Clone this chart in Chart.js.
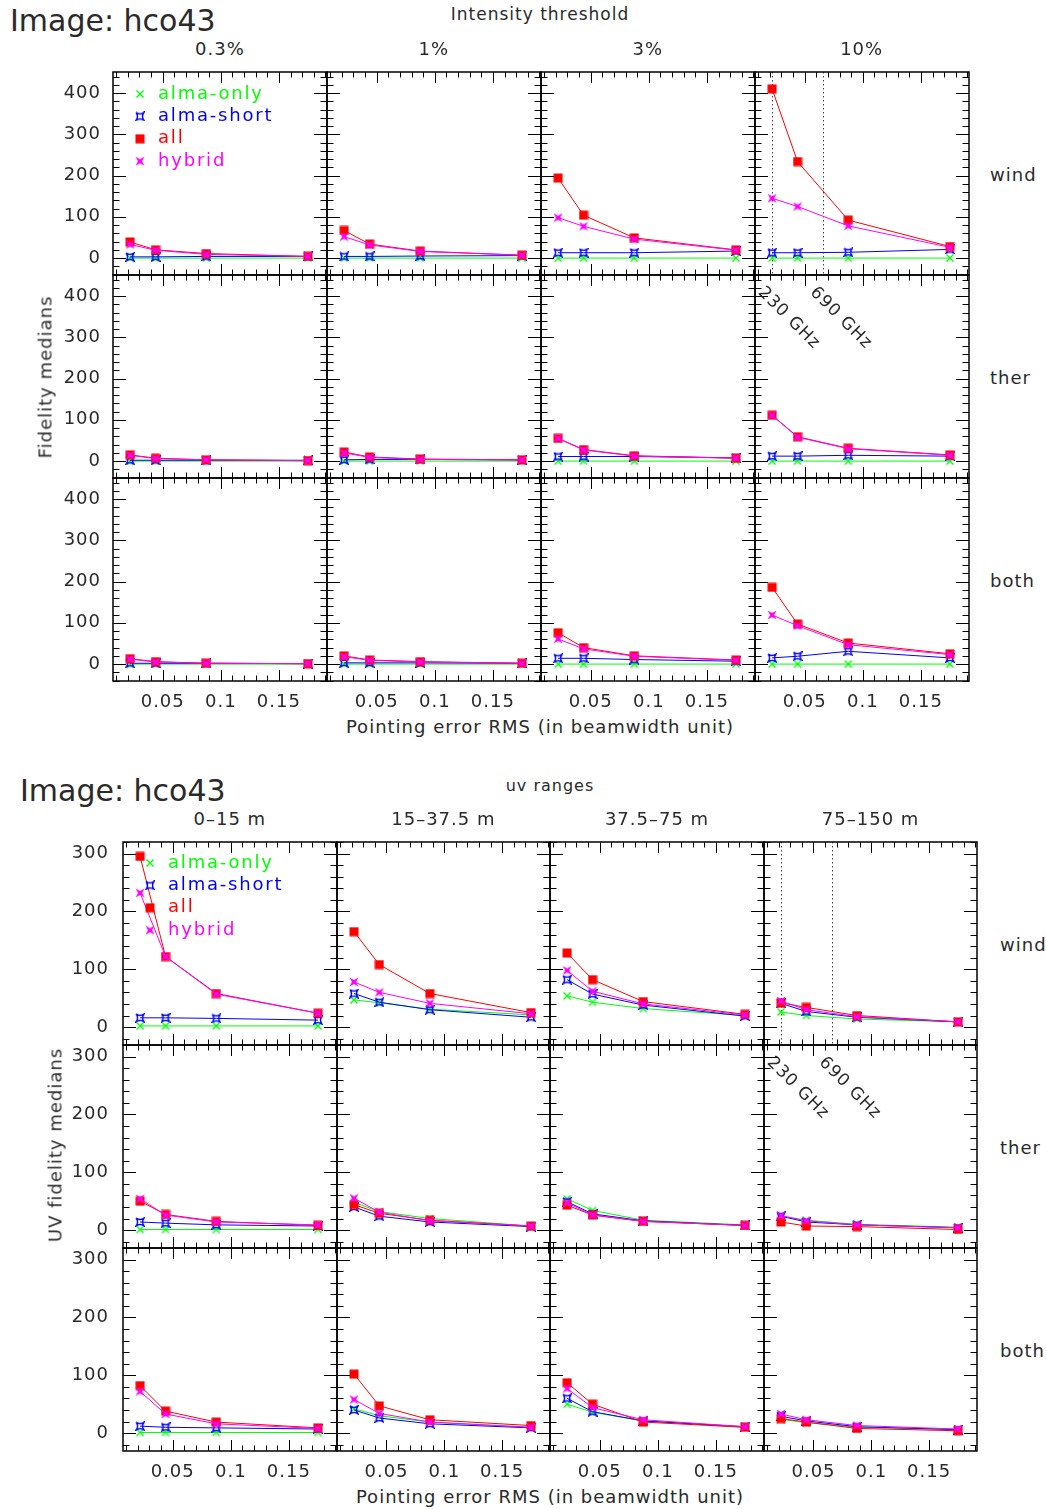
<!DOCTYPE html>
<html>
<head>
<meta charset="utf-8">
<title>hco43 fidelity medians</title>
<script src="https://cdn.jsdelivr.net/npm/chart.js"></script>
<style>
body { margin:0; background:#fff; }
#page { position:relative; width:1046px; height:1509px; overflow:hidden; font-family:"DejaVu Sans", sans-serif; color:#2a2a2a; }
.t { position:absolute; white-space:nowrap; font-size:18px; letter-spacing:1px; transform:translate(-50%,-50%); }
.l { position:absolute; white-space:nowrap; font-size:18px; letter-spacing:1px; transform:translate(0,-50%); }
.big { font-size:30px; letter-spacing:0; }
.rot { transform:translate(-50%,-50%) rotate(-90deg); }
.ghz { transform:translate(-50%,-50%) rotate(45deg); font-size:17px; }
canvas { position:absolute; }
</style>
</head>
<body>
<div id="page"></div>
<script>
// pointing error RMS (beamwidth units), same four steps in every panel
var pointing = [0.0219, 0.0438, 0.0875, 0.175];
var freqLines = [0.0219, 0.0656];   // 230 GHz / 690 GHz
var seriesNames = ['alma-only', 'alma-short', 'all', 'hybrid'];
var seriesColors = ['#00ff00', '#0000ff', '#ff0000', '#ff00ff'];
var rowNames = ['wind', 'ther', 'both'];
var thresholds = ['0.3%', '1%', '3%', '10%'];
var uvRanges = ['0\u201315 m', '15\u201337.5 m', '37.5\u201375 m', '75\u2013150 m'];
var xTicks = [0.05, 0.1, 0.15];
var fidTicks = [0, 100, 200, 300, 400];
var uvTicks = [0, 100, 200, 300];

// Fidelity medians, one inner array per intensity threshold column
var fidWindOnly  = [[0,0,0,0], [0,0,0,0], [0,0,0,0], [0,0,0,0]];
var fidWindShort = [[3,3,4,4], [4,4,5,6], [13,13,13,17], [13,13,14,21]];
var fidWindAll   = [[39,20,11,4], [67,34,17,7], [194,104,49,20], [410,234,92,28]];
var fidWindHyb   = [[33,19,9,4], [52,32,16,7], [98,77,46,19], [145,125,78,26]];
var fidTherOnly  = [[0,0,0,0], [0,0,0,0], [0,0,0,0], [0,0,0,0]];
var fidTherShort = [[2,2,2,2], [3,4,4,3], [11,11,11,8], [12,12,14,12]];
var fidTherAll   = [[15,7,3,1], [22,10,5,3], [55,28,13,7], [111,59,31,15]];
var fidTherHyb   = [[14,6,3,1], [20,9,4,3], [55,27,12,7], [111,58,30,14]];
var fidBothOnly  = [[0,0,0,0], [0,0,0,0], [0,0,0,0], [0,0,0,0]];
var fidBothShort = [[2,2,2,1], [3,3,3,2], [14,14,11,7], [15,19,31,15]];
var fidBothAll   = [[13,6,2,1], [20,10,6,2], [76,40,20,10], [186,97,51,25]];
var fidBothHyb   = [[12,5,2,1], [18,9,5,2], [61,37,19,9], [119,93,47,23]];

// UV fidelity medians, one inner array per uv range column
var uvWindOnly  = [[2,2,2,2], [47,42,31,21], [54,43,32,20], [26,20,14,9]];
var uvWindShort = [[16,16,15,12], [58,43,30,17], [82,57,38,19], [41,27,17,9]];
var uvWindAll   = [[295,122,58,24], [165,108,58,25], [128,82,44,22], [42,34,20,9]];
var uvWindHyb   = [[232,122,57,24], [78,60,41,23], [98,62,40,21], [45,30,18,9]];
var uvTherOnly  = [[1,1,1,1], [48,32,20,7], [54,34,17,9], [24,17,10,5]];
var uvTherShort = [[14,12,9,7], [40,24,14,6], [49,28,16,8], [24,14,9,4]];
var uvTherAll   = [[50,27,15,8], [44,29,17,7], [43,26,15,8], [14,7,6,1]];
var uvTherHyb   = [[54,26,14,9], [55,31,16,7], [47,26,15,8], [25,16,9,4]];
var uvBothOnly  = [[1,1,1,1], [42,30,19,10], [50,36,21,10], [24,18,10,6]];
var uvBothShort = [[12,10,9,7], [40,26,16,9], [60,37,21,11], [29,21,11,6]];
var uvBothAll   = [[82,38,19,9], [102,47,23,13], [87,50,19,10], [25,19,8,4]];
var uvBothHyb   = [[72,33,16,8], [58,34,19,10], [77,44,23,11], [33,23,13,7]];

var X_MIN = 0.0072, X_MAX = 0.1914;
var ML = 62, MR = 6, MT = 6, MB = 34;
var FONT = '18px "DejaVu Sans", sans-serif';
var page = document.getElementById('page');

function makeMarker(kind, color) {
  var c = document.createElement('canvas');
  c.width = 10; c.height = 10;
  var g = c.getContext('2d');
  g.strokeStyle = color; g.fillStyle = color; g.lineWidth = 1.4;
  g.beginPath();
  if (kind == 'cross') {
    g.moveTo(1.5,1.5); g.lineTo(8.5,8.5); g.moveTo(8.5,1.5); g.lineTo(1.5,8.5); g.stroke();
  } else if (kind == 'astroid') {
    g.moveTo(1,1); g.quadraticCurveTo(5,4,9,1); g.quadraticCurveTo(6,5,9,9);
    g.quadraticCurveTo(5,6,1,9); g.quadraticCurveTo(4,5,1,1); g.stroke();
  } else if (kind == 'square') {
    g.fillRect(0.5,0.5,9,9);
  } else {
    g.moveTo(0.5,0.5); g.lineTo(5,3); g.lineTo(9.5,0.5); g.lineTo(7,5);
    g.lineTo(9.5,9.5); g.lineTo(5,7); g.lineTo(0.5,9.5); g.lineTo(3,5); g.closePath(); g.fill();
  }
  return c;
}
var markers = [makeMarker('cross', seriesColors[0]), makeMarker('astroid', seriesColors[1]),
               makeMarker('square', seriesColors[2]), makeMarker('star', seriesColors[3])];

var framePlugin = {
  id: 'frame',
  beforeDatasetsDraw: function (chart, args, o) {
    if (!o.vlines) return;
    var ctx = chart.ctx, a = chart.chartArea;
    ctx.save();
    ctx.strokeStyle = '#444'; ctx.lineWidth = 1; ctx.setLineDash([1.5, 2.5]);
    o.vlines.forEach(function (v) {
      var px = Math.round(chart.scales.x.getPixelForValue(v)) + 0.5;
      ctx.beginPath(); ctx.moveTo(px, a.top); ctx.lineTo(px, a.bottom); ctx.stroke();
    });
    ctx.restore();
  },
  afterDraw: function (chart, args, o) {
    var ctx = chart.ctx, a = chart.chartArea, xs = chart.scales.x, ys = chart.scales.y;
    ctx.save();
    ctx.strokeStyle = '#000'; ctx.lineWidth = 1;
    ctx.beginPath();
    for (var i = 1; i <= 19; i++) {
      var v = i / 100;
      var major = xTicks.some(function (t) { return Math.abs(t - v) < 1e-6; });
      var len = major ? 11 : 5.5;
      var px = Math.round(xs.getPixelForValue(v)) + 0.5;
      ctx.moveTo(px, a.bottom); ctx.lineTo(px, a.bottom - len);
      ctx.moveTo(px, a.top); ctx.lineTo(px, a.top + len);
    }
    for (var y = Math.ceil(ys.min / 20) * 20; y <= ys.max; y += 20) {
      var ylen = (y % 100 == 0) ? 13 : 6.5;
      var py = Math.round(ys.getPixelForValue(y)) + 0.5;
      ctx.moveTo(a.left, py); ctx.lineTo(a.left + ylen, py);
      ctx.moveTo(a.right, py); ctx.lineTo(a.right - ylen, py);
    }
    ctx.stroke();
    ctx.lineWidth = 1.5;
    ctx.strokeRect(a.left, a.top, a.right - a.left, a.bottom - a.top);

    ctx.font = FONT; ctx.fillStyle = '#2a2a2a'; ctx.letterSpacing = '1px';
    if (o.yLabels) {
      ctx.textAlign = 'right'; ctx.textBaseline = 'middle';
      o.yLabels.forEach(function (t) { ctx.fillText(String(t), a.left - o.yGap, ys.getPixelForValue(t)); });
    }
    if (o.xLabels) {
      ctx.textAlign = 'center'; ctx.textBaseline = 'middle';
      o.xLabels.forEach(function (t) { ctx.fillText(String(t), xs.getPixelForValue(t), a.bottom + 21); });
    }
    if (o.legend) {
      ctx.textAlign = 'left'; ctx.letterSpacing = '1.8px';
      seriesNames.forEach(function (name, k) {
        var mx = a.left + 27, my = a.top + o.legend + k * 22.4;
        ctx.drawImage(markers[k], mx - 5, my - 5);
        ctx.fillStyle = seriesColors[k];
        ctx.fillText(name, mx + 18, my);
      });
    }
    ctx.restore();
  }
};

function addText(cls, txt, x, y, size) {
  var d = document.createElement('div');
  d.className = cls; d.textContent = txt;
  d.style.left = x + 'px'; d.style.top = y + 'px';
  if (size) d.style.fontSize = size + 'px';
  page.appendChild(d);
}

function drawFigure(f) {
  for (var r = 0; r < 3; r++) {
    for (var c = 0; c < 4; c++) {
      var left = Math.round(f.left + c * f.w), right = Math.round(f.left + (c + 1) * f.w);
      var top = f.top + r * f.h;
      var cv = document.createElement('canvas');
      cv.width = right - left + ML + MR; cv.height = f.h + MT + MB;
      cv.style.left = (left - ML) + 'px'; cv.style.top = (top - MT) + 'px';
      page.appendChild(cv);
      var rowData = f.rows[r];
      var datasets = rowData.map(function (arr, k) {
        return {
          label: seriesNames[k],
          data: pointing.map(function (x, i) { return { x: x, y: arr[c][i] }; }),
          borderColor: seriesColors[k], backgroundColor: seriesColors[k],
          borderWidth: 1, pointStyle: markers[k], pointRadius: 5, order: 3 - k, fill: false
        };
      });
      new Chart(cv, {
        type: 'line',
        data: { datasets: datasets },
        options: {
          responsive: false, animation: false, events: [],
          layout: { padding: { left: ML, right: MR, top: MT, bottom: MB } },
          plugins: {
            legend: { display: false }, tooltip: { enabled: false },
            frame: {
              yLabels: c == 0 ? f.yTicks : null, yGap: f.yGap,
              xLabels: r == 2 ? xTicks : null,
              legend: (r == 0 && c == 0) ? f.legendY : 0,
              vlines: (r == 0 && c == 3) ? freqLines : null
            }
          },
          scales: {
            x: { type: 'linear', min: X_MIN, max: X_MAX, display: false },
            y: { type: 'linear', min: f.yMin, max: f.yMax, display: false }
          }
        },
        plugins: [framePlugin]
      });
    }
  }
}

var figTop = {
  left: 113, top: 72, w: 213.9, h: 203, yMin: -41, yMax: 451, yTicks: fidTicks, yGap: 12, legendY: 22,
  rows: [[fidWindOnly, fidWindShort, fidWindAll, fidWindHyb],
         [fidTherOnly, fidTherShort, fidTherAll, fidTherHyb],
         [fidBothOnly, fidBothShort, fidBothAll, fidBothHyb]]
};
var figBot = {
  left: 123, top: 842, w: 213.6, h: 203, yMin: -31, yMax: 320, yTicks: uvTicks, yGap: 14, legendY: 21,
  rows: [[uvWindOnly, uvWindShort, uvWindAll, uvWindHyb],
         [uvTherOnly, uvTherShort, uvTherAll, uvTherHyb],
         [uvBothOnly, uvBothShort, uvBothAll, uvBothHyb]]
};
drawFigure(figTop);
drawFigure(figBot);

// titles and labels of the upper figure
addText('l big', 'Image: hco43', 10, 20);
addText('t', 'Intensity threshold', 540, 14, 17);
thresholds.forEach(function (s, i) { addText('t', s, 113 + (i + 0.5) * 213.9, 48); });
rowNames.forEach(function (s, i) { addText('l', s, 990, 174 + i * 203); });
addText('t rot', 'Fidelity medians', 45, 377);
addText('t', 'Pointing error RMS (in beamwidth unit)', 540, 726);
addText('t ghz', '230 GHz', 790, 317);
addText('t ghz', '690 GHz', 842, 317);

// titles and labels of the lower figure
addText('l big', 'Image: hco43', 20, 790);
addText('t', 'uv ranges', 550, 785, 16);
uvRanges.forEach(function (s, i) { addText('t', s, 123 + (i + 0.5) * 213.6, 818); });
rowNames.forEach(function (s, i) { addText('l', s, 1000, 944 + i * 203); });
addText('t rot', 'UV fidelity medians', 55, 1145);
addText('t', 'Pointing error RMS (in beamwidth unit)', 550, 1496);
addText('t ghz', '230 GHz', 799, 1087);
addText('t ghz', '690 GHz', 851, 1087);
</script>
</body>
</html>
